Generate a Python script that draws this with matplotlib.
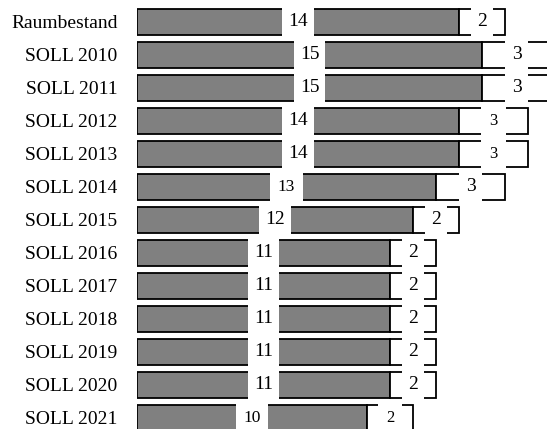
import matplotlib
matplotlib.use("Agg")
import matplotlib.pyplot as plt

categories = ["Raumbestand", "SOLL 2010", "SOLL 2011", "SOLL 2012", "SOLL 2013",
              "SOLL 2014", "SOLL 2015", "SOLL 2016", "SOLL 2017", "SOLL 2018",
              "SOLL 2019", "SOLL 2020", "SOLL 2021"]
gray_values = [14, 15, 15, 14, 14, 13, 12, 11, 11, 11, 11, 11, 10]
white_values = [2, 3, 3, 3, 3, 3, 2, 2, 2, 2, 2, 2, 2]

# style: label font sizes (some labels are rendered narrower in the reference)
gray_fs = [14, 14, 14, 14, 14, 12.5, 14, 14, 14, 14, 14, 14, 12.5]
white_fs = [14, 14, 14, 12, 12, 14, 14, 14, 14, 14, 14, 14, 12]

plt.rcParams['font.family'] = ['Liberation Serif', 'DejaVu Serif']

fig = plt.figure(figsize=(5.47, 4.29), dpi=100)
ax = fig.add_axes([137 / 547, 0, 410 / 547, 1])

y = list(range(len(categories)))
h = 0.78
ax.barh(y, gray_values, height=h, color="#808080", edgecolor="black", linewidth=1.3, zorder=2)
ax.barh(y, white_values, left=gray_values, height=h, color="white", edgecolor="black",
        linewidth=1.3, zorder=2)


def box(fs):
    pad_pt = 0.32 * 14 + (14 - fs) * 0.6
    return dict(boxstyle="square,pad=%.3f" % (pad_pt / fs), facecolor="white", edgecolor="none")


for i in y:
    g = gray_values[i]
    w = white_values[i]
    ax.text(g / 2, i, str(g), ha="center", va="center", fontsize=gray_fs[i], zorder=5,
            bbox=box(gray_fs[i]))
    ax.text(g + w / 2, i, str(w), ha="center", va="center", fontsize=white_fs[i], zorder=5,
            bbox=box(white_fs[i]))

ax.set_xlim(0, 410 / 23)
ax.set_ylim(12 + 11 / 33, -22 / 33)
ax.set_yticks(y)
ax.set_yticklabels(categories, fontsize=14)
ax.tick_params(axis="y", length=0, pad=14)
ax.set_xticks([])
for s in ax.spines.values():
    s.set_visible(False)

fig.savefig("out.png", dpi=100)
